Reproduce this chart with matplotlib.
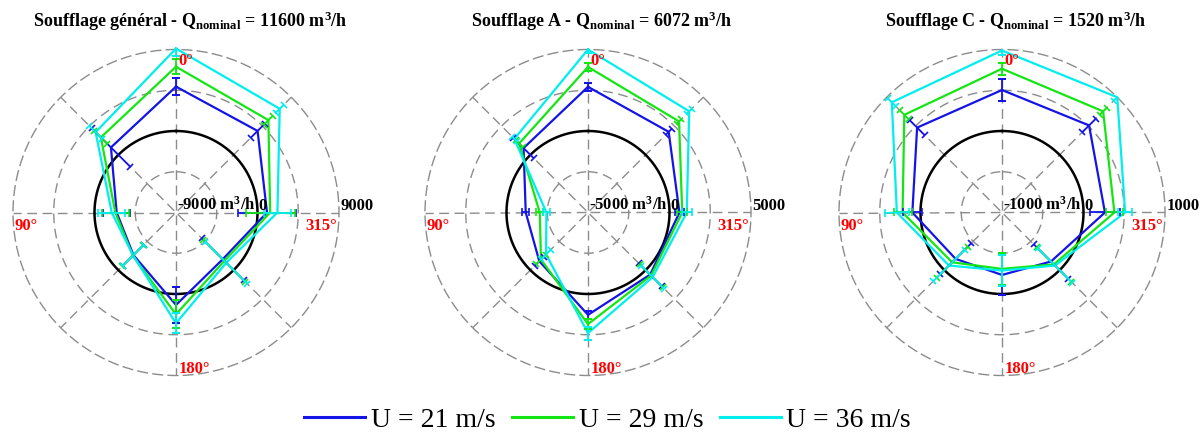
import numpy as np
import matplotlib.pyplot as plt
from matplotlib.lines import Line2D

plt.rcParams['font.family'] = ['Liberation Serif', 'DejaVu Serif']
plt.rcParams['mathtext.fontset'] = 'custom'
plt.rcParams['mathtext.rm'] = 'Liberation Serif'
plt.rcParams['mathtext.bf'] = 'Liberation Serif:bold'
plt.rcParams['mathtext.it'] = 'Liberation Serif:italic'

# directions, clockwise from the top
angles = [0, 45, 90, 135, 180, 225, 270, 315]
speeds = ['U = 21 m/s', 'U = 29 m/s', 'U = 36 m/s']
colors = ['#1414e6', '#14e614', '#00eeee']

# Soufflage général (m3/h)
gen_u21 = [4900, 3740, 1050, -1700, 1210, -2350, -2450, 1160]
gen_u21_err = [900, 1100, 3250, 3300, 2000, 1650, 1500, 3000]
gen_u29 = [7100, 5430, 1400, -1450, 2250, -2250, -2300, 2730]
gen_u29_err = [850, 700, 2700, 3300, 1550, 1650, 1500, 1000]
gen_u36 = [9100, 7200, 2200, -1150, 3240, -2300, -1900, 3550]
gen_u36_err = [800, 600, 1500, 3300, 1100, 1650, 1500, 1000]

# Soufflage A
a_u21 = [2710, 2000, 610, 390, 1280, -775, -1180, 590]
a_u21_err = [250, 250, 300, 1000, 250, 400, 200, 900]
a_u29 = [3930, 2900, 780, 470, 1850, -920, -2040, 980]
a_u29_err = [250, 200, 300, 1000, 300, 400, 200, 300]
a_u36 = [5000, 3780, 1060, 610, 2400, -1360, -2450, 1390]
a_u36_err = [200, 200, 300, 1000, 400, 400, 200, 200]

# Soufflage C
c_u21 = [503, 511, 263, -150, -234, -195, 100, 473]
c_u21_err = [130, 120, 186, 300, 250, 270, 120, 130]
c_u29 = [764, 755, 379, -100, -308, -136, 220, 695]
c_u29_err = [75, 60, 100, 300, 200, 270, 110, 80]
c_u36 = [988, 1000, 511, -80, -288, -80, 290, 912]
c_u36_err = [60, 60, 90, 300, 190, 270, 150, 70]

titles = [r'Soufflage général - Q$_{\mathbf{nominal}}$ = 11600 m$^{\mathbf{3}}$/h',
          r'Soufflage A - Q$_{\mathbf{nominal}}$ = 6072 m$^{\mathbf{3}}$/h',
          r'Soufflage C - Q$_{\mathbf{nominal}}$ = 1520 m$^{\mathbf{3}}$/h']
limits = [9000, 5000, 1000]
data = [[(gen_u21, gen_u21_err), (gen_u29, gen_u29_err), (gen_u36, gen_u36_err)],
        [(a_u21, a_u21_err), (a_u29, a_u29_err), (a_u36, a_u36_err)],
        [(c_u21, c_u21_err), (c_u29, c_u29_err), (c_u36, c_u36_err)]]

W, H = 1203, 436
fig = plt.figure(figsize=(W / 100, H / 100), dpi=100)

centers = [176, 588, 1002]
cy = 212.5
R = 163
dash = (0, (7, 4))
gray = '#8c8c8c'

th = np.deg2rad(angles)
th_closed = np.append(th, th[0])
tt = np.linspace(0, 2 * np.pi, 400)

for cx, title, lim, series in zip(centers, titles, limits, data):
    ax = fig.add_axes([(cx - R) / W, (H - cy - R) / H, 2 * R / W, 2 * R / H],
                      projection='polar')
    ax.set_theta_zero_location('N')
    ax.set_theta_direction(-1)
    ax.set_ylim(-lim, lim)
    ax.set_xticks([])
    ax.set_yticks([])
    ax.grid(False)
    ax.spines['polar'].set_linestyle(dash)
    ax.spines['polar'].set_color(gray)
    ax.spines['polar'].set_linewidth(1)

    # grid rings and spokes
    for r in [-lim / 2, lim / 2]:
        ax.plot(tt, np.full_like(tt, r), color=gray, ls=dash, lw=1, zorder=1)
    for a in th:
        ax.plot([a, a], [-lim * 0.97, lim], color=gray, ls=dash, lw=1, zorder=1)
    ax.plot(tt, np.zeros_like(tt), color='black', lw=1.8, zorder=2)

    for (vals, errs), c in zip(series, colors):
        vals_closed = np.append(vals, vals[0])
        ax.plot(th_closed, vals_closed, color=c, lw=1.6, zorder=3, clip_on=False)
        ax.errorbar(th, vals, yerr=errs, fmt='none', ecolor=c, elinewidth=1.3,
                    capsize=3, capthick=1.2, zorder=4)

    # radial labels
    ax.text(0.503, 0.509, '-%d m$^{\\mathbf{3}}$/h' % lim, transform=ax.transAxes,
            ha='left', va='baseline', fontsize=12, fontweight='bold', zorder=5)
    ax.text(0.753, 0.509, '0', transform=ax.transAxes,
            ha='left', va='baseline', fontsize=12, fontweight='bold', zorder=5)
    ax.text(1.004, 0.509, '%d' % lim, transform=ax.transAxes,
            ha='left', va='baseline', fontsize=12, fontweight='bold')

    # direction labels
    red = dict(transform=ax.transAxes, color='red', fontsize=12, fontweight='bold')
    ax.text(0.507, 0.989, '0°', ha='left', va='top', **red)
    ax.text(0.006, 0.483, '90°', ha='left', va='top', **red)
    ax.text(0.507, 0.046, '180°', ha='left', va='top', **red)
    ax.text(0.994, 0.483, '315°', ha='right', va='top', **red)

    ax.text(0.543, 1.07, title, transform=ax.transAxes, ha='center',
            va='baseline', fontsize=13, fontweight='bold')

handles = [Line2D([], [], color=c, lw=2.2) for c in colors]
fig.legend(handles, speeds, loc='center', bbox_to_anchor=(0.505, 0.037), ncol=3,
           frameon=False, fontsize=20, handlelength=2.2, handletextpad=0.2,
           columnspacing=0.6)

fig.savefig('out.png', dpi=100)
